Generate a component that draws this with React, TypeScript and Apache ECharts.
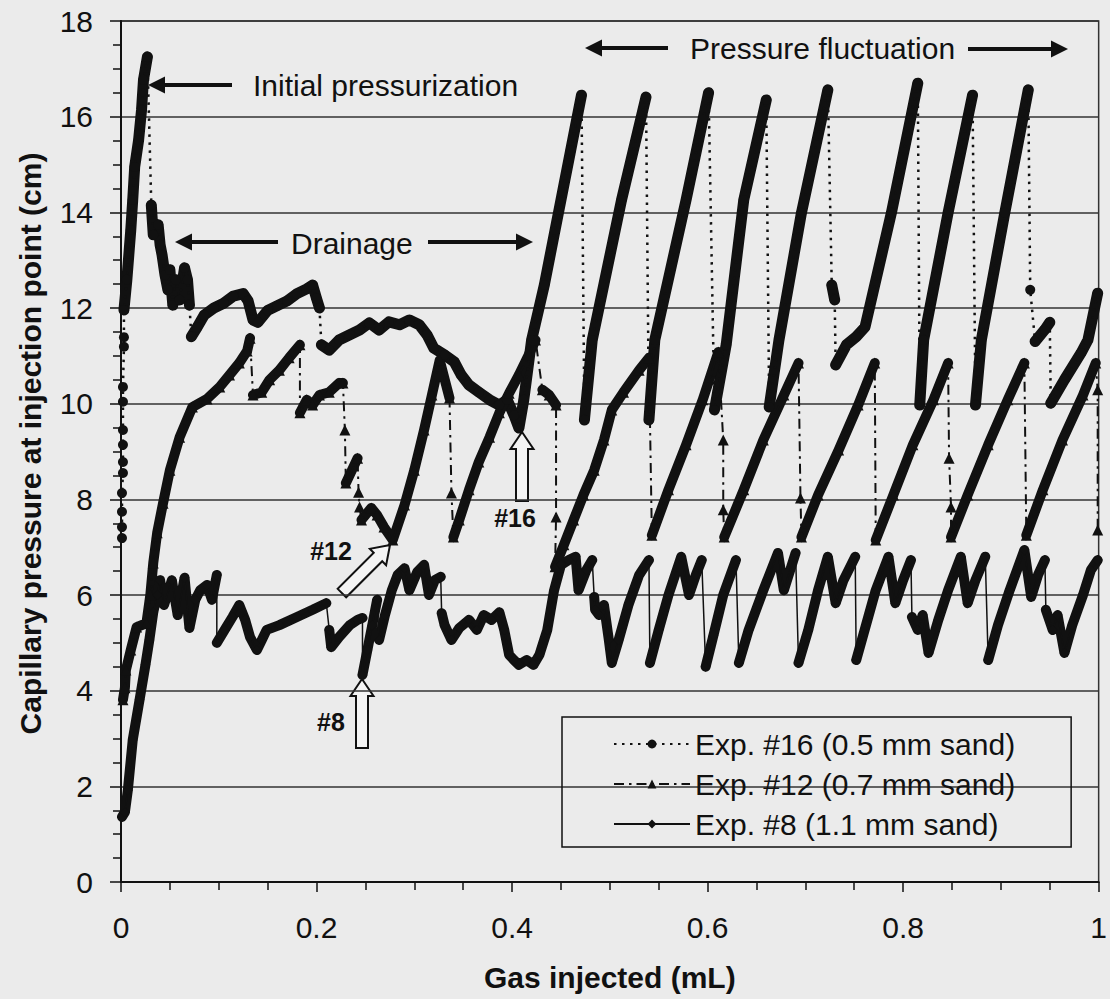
import React, { useEffect, useRef } from "react";
import * as echarts from "echarts";

type Pt = [number, number];

// ---------- tick labels ----------
const xTickLabels = ["0", "0.2", "0.4", "0.6", "0.8", "1"];
const yTickLabels = ["0", "2", "4", "6", "8", "10", "12", "14", "16", "18"];

// ---------- series names ----------
const name16 = "Exp. #16 (0.5 mm sand)";
const name12 = "Exp. #12 (0.7 mm sand)";
const name8 = "Exp. #8 (1.1 mm sand)";

// ---------- Exp. #16 (runs of continuous readings; jumps between runs) ----------
const exp16Runs: Pt[][] = [
  [[0.001, 7.19]], [[0.001, 7.42]], [[0.001, 7.74]], [[0.001, 8.13]],
  [[0.002, 8.55]], [[0.002, 8.78]], [[0.002, 9.14]], [[0.002, 9.45]],
  [[0.002, 10.04]], [[0.002, 10.35]], [[0.003, 11.19]], [[0.003, 11.39]],
  [[0.003, 11.96], [0.006, 12.59], [0.010, 13.63], [0.012, 14.26], [0.014, 14.95], [0.018, 15.51], [0.021, 16.14], [0.023, 16.77], [0.027, 17.25]],
  [[0.031, 14.15], [0.033, 13.53], [0.038, 13.74], [0.040, 13.32], [0.042, 13.11], [0.045, 12.69], [0.048, 12.38], [0.050, 12.80], [0.053, 12.06], [0.056, 12.59], [0.060, 12.17], [0.065, 12.84], [0.068, 12.59], [0.070, 12.06]],
  [[0.072, 11.40], [0.078, 11.60], [0.085, 11.85], [0.095, 12.00], [0.105, 12.10], [0.115, 12.25], [0.125, 12.30], [0.130, 12.15], [0.135, 11.75], [0.140, 11.70], [0.150, 11.95], [0.160, 12.05], [0.170, 12.15], [0.180, 12.30], [0.190, 12.40], [0.196, 12.48], [0.200, 12.20], [0.203, 12.00]],
  [[0.205, 11.23], [0.213, 11.12], [0.223, 11.33], [0.234, 11.44], [0.244, 11.54], [0.254, 11.69], [0.264, 11.54], [0.274, 11.71], [0.285, 11.65], [0.295, 11.75], [0.305, 11.65], [0.313, 11.44], [0.320, 11.16], [0.331, 11.02], [0.341, 10.87], [0.348, 10.60], [0.356, 10.39], [0.366, 10.24], [0.377, 10.08], [0.387, 9.97], [0.395, 10.08], [0.402, 9.76], [0.407, 9.49], [0.412, 10.08], [0.420, 11.33], [0.433, 12.48], [0.448, 14.05], [0.460, 15.30], [0.471, 16.45]],
  [[0.474, 9.66], [0.482, 11.33], [0.512, 14.26], [0.537, 16.41]],
  [[0.540, 9.66], [0.546, 11.33], [0.578, 14.26], [0.601, 16.50]],
  [[0.607, 9.87], [0.619, 11.23], [0.637, 14.26], [0.660, 16.35]],
  [[0.663, 9.93], [0.673, 11.33], [0.696, 13.99], [0.723, 16.56]],
  [[0.727, 12.48], [0.730, 12.17]],
  [[0.731, 10.81], [0.742, 11.23], [0.752, 11.40], [0.761, 11.60], [0.788, 13.99], [0.815, 16.70]],
  [[0.817, 9.97], [0.821, 11.33], [0.846, 13.99], [0.871, 16.45]],
  [[0.874, 9.97], [0.880, 11.33], [0.904, 13.99], [0.928, 16.56]],
  [[0.930, 12.38]],
  [[0.935, 11.30], [0.945, 11.55], [0.950, 11.70]],
  [[0.951, 10.01], [0.965, 10.50], [0.982, 11.06], [0.989, 11.33], [0.999, 12.31]],
];

// ---------- Exp. #12 ----------
const exp12Runs: Pt[][] = [
  [[0.002, 3.81], [0.004, 4.06], [0.005, 4.43], [0.010, 4.85], [0.016, 5.33], [0.026, 5.41], [0.030, 6.00], [0.033, 6.67], [0.037, 7.30], [0.043, 7.92], [0.050, 8.61], [0.060, 9.30], [0.073, 9.93], [0.088, 10.10], [0.101, 10.35], [0.111, 10.60], [0.121, 10.85], [0.129, 11.10], [0.132, 11.37]],
  [[0.135, 10.18], [0.144, 10.24], [0.152, 10.50], [0.162, 10.70], [0.172, 10.96], [0.183, 11.23]],
  [[0.183, 9.81], [0.190, 10.08], [0.196, 9.97], [0.203, 10.18], [0.213, 10.24], [0.223, 10.43], [0.227, 10.43]],
  [[0.229, 9.45]],
  [[0.230, 8.34], [0.242, 8.86]],
  [[0.243, 8.15]],
  [[0.244, 7.84]],
  [[0.246, 7.57], [0.256, 7.82], [0.262, 7.67], [0.269, 7.42], [0.278, 7.15], [0.290, 7.88], [0.300, 8.61], [0.310, 9.45], [0.318, 10.18], [0.326, 10.91], [0.336, 10.12]],
  [[0.338, 8.13]],
  [[0.340, 7.21], [0.346, 7.57], [0.356, 8.20], [0.366, 8.78], [0.377, 9.30], [0.387, 9.81], [0.397, 10.22], [0.407, 10.60], [0.417, 11.02], [0.424, 11.33]],
  [[0.431, 10.29], [0.438, 10.18], [0.445, 9.97]],
  [[0.445, 7.63]],
  [[0.444, 6.59], [0.453, 7.05], [0.463, 7.57], [0.473, 8.09], [0.484, 8.61], [0.494, 9.24], [0.502, 9.87], [0.514, 10.24], [0.530, 10.70], [0.540, 10.96]],
  [[0.543, 7.25], [0.560, 8.20], [0.578, 9.14], [0.595, 10.08], [0.611, 11.08]],
  [[0.616, 9.24]],
  [[0.616, 7.78]],
  [[0.617, 7.21], [0.637, 8.20], [0.657, 9.24], [0.678, 10.18], [0.693, 10.85]],
  [[0.695, 8.03]],
  [[0.696, 7.21], [0.713, 8.09], [0.734, 9.03], [0.754, 9.97], [0.771, 10.85]],
  [[0.772, 7.15], [0.790, 8.09], [0.810, 9.14], [0.831, 10.08], [0.846, 10.85]],
  [[0.847, 8.86]],
  [[0.849, 7.84]],
  [[0.849, 7.21], [0.866, 8.09], [0.887, 9.14], [0.907, 10.08], [0.924, 10.85]],
  [[0.926, 7.25], [0.943, 8.20], [0.963, 9.24], [0.984, 10.18], [0.997, 10.85]],
  [[0.999, 10.29]],
  [[0.999, 7.36]],
];

// ---------- Exp. #8 ----------
const exp8Runs: Pt[][] = [
  [[0.001, 1.36], [0.004, 1.46], [0.007, 1.92], [0.012, 2.97], [0.019, 3.81], [0.025, 4.54], [0.029, 5.06], [0.033, 5.64], [0.037, 6.00], [0.040, 6.31], [0.044, 5.79], [0.052, 6.31], [0.058, 5.58], [0.065, 6.36], [0.070, 5.31], [0.076, 5.90], [0.081, 6.10], [0.088, 6.21], [0.093, 5.90], [0.098, 6.42]],
  [[0.098, 5.00], [0.106, 5.27], [0.114, 5.54], [0.121, 5.79], [0.127, 5.48], [0.132, 5.12], [0.139, 4.85], [0.144, 5.06], [0.149, 5.27], [0.162, 5.37], [0.180, 5.54], [0.196, 5.69], [0.210, 5.83]],
  [[0.213, 5.27], [0.215, 4.91], [0.223, 5.12], [0.234, 5.37], [0.242, 5.48], [0.247, 5.52]],
  [[0.247, 4.33], [0.252, 4.85], [0.257, 5.37], [0.262, 5.90]],
  [[0.264, 5.06], [0.270, 5.58], [0.277, 6.10], [0.283, 6.42], [0.290, 6.56], [0.295, 6.10], [0.303, 6.48], [0.310, 6.63], [0.315, 6.00], [0.321, 6.31], [0.327, 6.38]],
  [[0.328, 5.62], [0.331, 5.37], [0.338, 5.06], [0.346, 5.31], [0.356, 5.48], [0.364, 5.27], [0.371, 5.58], [0.379, 5.48], [0.387, 5.64], [0.392, 5.27], [0.397, 4.75], [0.402, 4.64], [0.407, 4.54], [0.415, 4.64], [0.422, 4.54], [0.428, 4.75], [0.436, 5.27], [0.443, 6.10], [0.450, 6.63], [0.458, 6.73], [0.465, 6.80], [0.468, 6.10], [0.476, 6.52], [0.482, 6.73]],
  [[0.484, 5.96], [0.485, 5.69], [0.489, 5.58], [0.494, 5.79], [0.499, 5.06], [0.502, 4.58], [0.509, 5.06], [0.519, 5.79], [0.530, 6.42], [0.540, 6.73]],
  [[0.541, 4.58], [0.550, 5.27], [0.560, 6.00], [0.573, 6.80], [0.581, 6.00], [0.588, 6.42], [0.594, 6.73]],
  [[0.598, 4.50], [0.606, 5.16], [0.616, 6.00], [0.629, 6.73]],
  [[0.632, 4.58], [0.642, 5.27], [0.657, 6.10], [0.672, 6.88], [0.678, 6.10], [0.690, 6.88]],
  [[0.693, 4.58], [0.703, 5.27], [0.713, 6.10], [0.723, 6.80], [0.731, 5.83], [0.739, 6.31], [0.751, 6.80]],
  [[0.752, 4.64], [0.762, 5.37], [0.772, 6.10], [0.785, 6.80], [0.792, 5.83], [0.800, 6.31], [0.808, 6.73]],
  [[0.809, 5.54], [0.815, 5.27], [0.820, 5.58], [0.826, 4.79], [0.836, 5.48], [0.846, 6.10], [0.859, 6.80], [0.866, 5.83], [0.874, 6.31], [0.884, 6.80]],
  [[0.887, 4.64], [0.897, 5.37], [0.909, 6.10], [0.924, 6.94], [0.931, 5.96], [0.938, 6.42], [0.945, 6.73]],
  [[0.946, 5.69], [0.953, 5.27], [0.958, 5.58], [0.965, 4.79], [0.973, 5.37], [0.984, 6.00], [0.992, 6.52], [0.999, 6.73]],
];

const FONT = "Liberation Sans";
const INK = "#111";
const BG = "#ebebeb";

function flatten(runs: Pt[][]): Pt[] {
  const out: Pt[] = [];
  runs.forEach((r) => r.forEach((p) => out.push(p)));
  return out;
}
function withBreaks(runs: Pt[][]): (Pt | null)[] {
  const out: (Pt | null)[] = [];
  runs.forEach((r) => {
    if (r.length < 2) return;
    r.forEach((p) => out.push(p));
    out.push(null);
  });
  return out;
}

function arrowFilled(x1: number, y1: number, x2: number, y2: number) {
  const dx = x2 - x1, dy = y2 - y1;
  const len = Math.sqrt(dx * dx + dy * dy);
  const ux = dx / len, uy = dy / len;
  const hl = 17, hw = 8.5;
  const bx = x2 - ux * hl, by = y2 - uy * hl;
  return [
    { type: "line", shape: { x1, y1, x2: bx + ux * 2, y2: by + uy * 2 }, style: { stroke: INK, lineWidth: 4 } },
    { type: "polygon", shape: { points: [[x2, y2], [bx - uy * hw, by + ux * hw], [bx + uy * hw, by - ux * hw]] }, style: { fill: INK } },
  ];
}

function hollowArrow(tipX: number, tipY: number, length: number, rotation: number) {
  const hl = 17, hw = 11.5, sw = 6;
  return {
    type: "group",
    x: tipX,
    y: tipY,
    rotation,
    children: [
      {
        type: "polygon",
        shape: { points: [[0, 0], [hw, hl], [sw, hl], [sw, length], [-sw, length], [-sw, hl], [-hw, hl]] },
        style: { fill: "#f4f4f4", stroke: INK, lineWidth: 2 },
      },
    ],
  };
}

function label(text: string, x: number, y: number, size: number, bold = false, align = "left") {
  return {
    type: "text",
    x,
    y,
    style: { text, fontSize: size, fontFamily: FONT, fontWeight: bold ? "bold" : "normal", fill: INK, align, verticalAlign: "middle" },
  };
}

export default function App() {
  const ref = useRef<HTMLDivElement>(null);
  useEffect(() => {
    if (!ref.current) return;
    const chart = echarts.init(ref.current, undefined, { renderer: "svg" });

    const defs = [
      { name: name16, runs: exp16Runs, symbol: "circle", size: 10, width: 11, line: { type: [2.5, 5.5], width: 2.5 } },
      { name: name12, runs: exp12Runs, symbol: "triangle", size: 11, width: 10, line: { type: [10, 5, 2.5, 5], width: 2 } },
      { name: name8, runs: exp8Runs, symbol: "diamond", size: 10, width: 10, line: { type: "solid", width: 1.5 } },
    ];
    const series: any[] = [];
    defs.forEach((d) => {
      series.push({
        type: "line",
        name: d.name + " trace",
        data: withBreaks(d.runs),
        showSymbol: false,
        connectNulls: false,
        silent: true,
        z: 2,
        lineStyle: { color: INK, width: d.width, cap: "round", join: "round" },
      });
    });
    defs.forEach((d) => {
      series.push({
        type: "line",
        name: d.name,
        data: flatten(d.runs),
        symbol: d.symbol,
        symbolSize: d.size,
        showSymbol: true,
        showAllSymbol: true,
        z: 3,
        itemStyle: { color: INK, borderWidth: 0 },
        lineStyle: { color: INK, width: d.line.width, type: d.line.type as any, cap: "butt" },
      });
    });

    const graphics: any[] = [
      ...arrowFilled(232, 85, 148, 85),
      label("Initial pressurization", 253, 85, 30),
      ...arrowFilled(278, 242, 175, 242),
      label("Drainage", 291, 243, 30),
      ...arrowFilled(428, 242, 533, 242),
      ...arrowFilled(668, 48, 585, 48),
      label("Pressure fluctuation", 690, 48, 30),
      ...arrowFilled(968, 49, 1068, 49),
      hollowArrow(362, 679, 69, 0),
      label("#8", 331, 722, 25, true, "center"),
      hollowArrow(522, 432, 69, 0),
      label("#16", 515, 518, 25, true, "center"),
      hollowArrow(390, 545, 68, -Math.PI / 4),
      label("#12", 331, 551, 25, true, "center"),
    ];

    chart.setOption({
      animation: false,
      backgroundColor: BG,
      textStyle: { fontFamily: FONT, color: INK },
      grid: { left: 121, right: 9, top: 21, bottom: 117, show: true, borderColor: "#333", borderWidth: 1.5, backgroundColor: "transparent" },
      legend: {
        data: [name16, name12, name8],
        orient: "vertical",
        left: 562,
        top: 717,
        padding: [12, 56, 8, 51],
        itemGap: 10,
        itemWidth: 76,
        itemHeight: 11,
        borderColor: INK,
        borderWidth: 1.5,
        textStyle: { fontSize: 30, fontFamily: FONT, color: INK, lineHeight: 30 },
      },
      xAxis: {
        type: "value",
        min: 0,
        max: 1,
        interval: 0.2,
        name: "Gas injected (mL)",
        nameLocation: "middle",
        nameGap: 80,
        nameTextStyle: { fontSize: 30, fontWeight: "bold", fontFamily: FONT, color: INK },
        axisLine: { show: true, lineStyle: { color: INK, width: 2 } },
        axisTick: { show: true, length: 10, lineStyle: { color: INK, width: 1.5 } },
        minorTick: { show: true, splitNumber: 4, length: 8, lineStyle: { color: INK, width: 1.5 } },
        splitLine: { show: false },
        axisLabel: { fontSize: 30, fontFamily: FONT, color: INK, margin: 30, showMaxLabel: true, formatter: (v: number) => xTickLabels[Math.round(v / 0.2)] },
      },
      yAxis: {
        type: "value",
        min: 0,
        max: 18,
        interval: 2,
        name: "Capillary pressure at injection point (cm)",
        nameLocation: "middle",
        nameGap: 76,
        nameTextStyle: { fontSize: 30, fontWeight: "bold", fontFamily: FONT, color: INK, padding: [0, 0, 0, 16] },
        axisLine: { show: true, lineStyle: { color: INK, width: 2 } },
        axisTick: { show: true, length: 11, lineStyle: { color: INK, width: 1.5 } },
        minorTick: { show: true, splitNumber: 4, length: 8, lineStyle: { color: INK, width: 1.5 } },
        splitLine: { show: true, lineStyle: { color: "#333", width: 1.5 } },
        axisLabel: { fontSize: 30, fontFamily: FONT, color: INK, margin: 28, formatter: (v: number) => yTickLabels[Math.round(v / 2)] },
      },
      series,
      graphic: graphics,
    });
    return () => chart.dispose();
  }, []);
  return <div ref={ref} style={{ position: "fixed", left: 0, top: 0, width: 1110, height: 999 }} />;
}
